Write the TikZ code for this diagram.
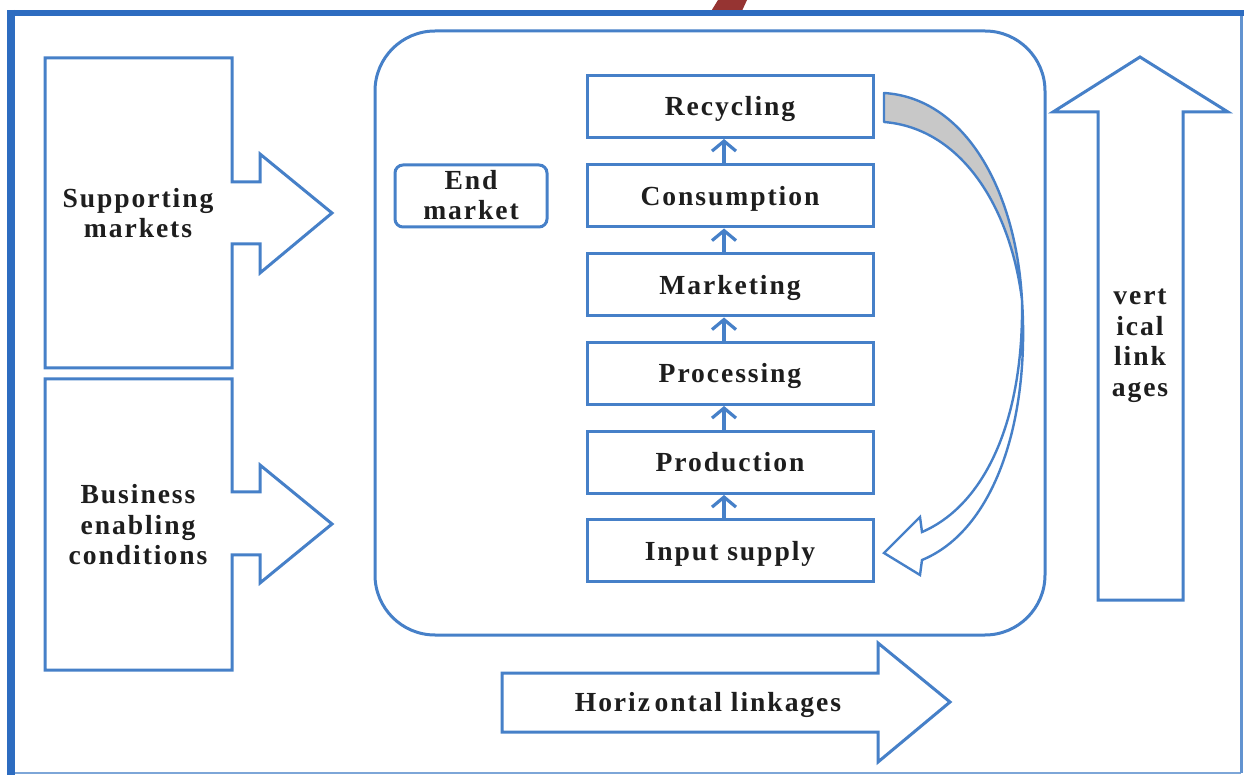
\documentclass[tikz,border=0pt]{standalone}
\usepackage{fontspec}
\setmainfont{Liberation Serif}[LetterSpace=7]
\usetikzlibrary{arrows.meta}
\definecolor{lc}{RGB}{70,128,200}
\definecolor{fc}{RGB}{45,108,192}
\definecolor{rc}{RGB}{150,52,50}
\definecolor{tc}{RGB}{30,30,30}
\definecolor{gc}{RGB}{200,200,200}
\tikzset{
  shp/.style={draw=lc, line width=1.5pt, line join=miter, fill=white},
  stepbox/.style={draw=lc, line width=1.5pt, minimum width=143pt, minimum height=31pt, inner sep=0pt, fill=white},
  txt/.style={font=\fontsize{13.8}{15.25}\selectfont\bfseries, text=tc, align=center, inner sep=0pt},
  onel/.style={txt, text height=9.2pt, text depth=0pt},
  smallarr/.style={draw=lc, line width=1.6pt, -{Straight Barb[length=5pt, width=12pt, line width=1.6pt]}},
}
\begin{document}
\begin{tikzpicture}[x=0.5pt, y=-0.5pt]
\useasboundingbox (0,0) rectangle (1244,775);
\fill[white] (0,0) rectangle (1244,775);
% red fragment at top
\fill[rc] (710,13) -- (718,0) -- (747,0) -- (741,13) -- cycle;
% frame
\draw[lc!70, line width=1pt] (11,773) -- (1241,773);
\draw[lc!85, line width=1.5pt] (1241,13) -- (1241,773);
\draw[fc, line width=2.8pt] (8,13) -- (1244,13);
\draw[fc, line width=3.6pt] (11,10) -- (11,775);
% big rounded container
\draw[lc, line width=1.5pt, rounded corners=30pt] (375,31) rectangle (1045,635);
% left block arrows
\draw[shp] (45,58) -- (232,58) -- (232,182) -- (260,182) -- (260,154) -- (332,213) -- (260,273) -- (260,244) -- (232,244) -- (232,368) -- (45,368) -- cycle;
\node[txt] (supp) at (138,213) {Supporting\\markets};
\draw[shp] (45,379) -- (232,379) -- (232,492) -- (260,492) -- (260,465) -- (332,524) -- (260,583) -- (260,555) -- (232,555) -- (232,670) -- (45,670) -- cycle;
\node[txt] (bus) at (138,525) {Business\\enabling\\conditions};
% end market
\node[draw=lc, line width=1.5pt, rounded corners=4pt, minimum width=76pt, minimum height=31pt, inner sep=0pt] (endm) at (471,196) {};
\node[txt] (endt) at (471,195) {End\\market};
% stack
\node[stepbox] (rec) at (730,106.5) {};
\node[stepbox] (con) at (730,196) {};
\node[stepbox] (mar) at (730,285) {};
\node[stepbox] (pro) at (730,373.5) {};
\node[stepbox] (prd) at (730,462.5) {};
\node[stepbox] (inp) at (730,551) {};
\node[onel] (rect) at (730,106.5) {Recycling};
\node[onel] (cont) at (730,196) {Consumption};
\node[onel] (mart) at (730,285) {Marketing};
\node[onel] (prot) at (730,373.5) {Processing};
\node[onel] (prdt) at (730,462.5) {Production};
\node[onel] (inpt) at (730,551) {Input supply};
\draw[smallarr] ([xshift=-3pt]inp.north) -- ([xshift=-3pt]prd.south);
\draw[smallarr] ([xshift=-3pt]prd.north) -- ([xshift=-3pt]pro.south);
\draw[smallarr] ([xshift=-3pt]pro.north) -- ([xshift=-3pt]mar.south);
\draw[smallarr] ([xshift=-3pt]mar.north) -- ([xshift=-3pt]con.south);
\draw[smallarr] ([xshift=-3pt]con.north) -- ([xshift=-3pt]rec.south);
% curved arrow
\draw[draw=lc, line width=1.2pt, fill=gc, line join=round] (884,93) .. controls (965,98) and (1016,190) .. (1022,300) .. controls (1010,205) and (960,128) .. (884,122) -- cycle;
\draw[draw=lc, line width=1.2pt, fill=white, line join=miter] (1022,300) .. controls (1024,420) and (985,505) .. (922,532) -- (920,517) -- (884,553) -- (920,575) -- (922,560) .. controls (995,530) and (1030,420) .. (1022,300) -- cycle;
% vertical linkages
\draw[shp] (1098,600) -- (1098,112) -- (1053,112) -- (1140,57) -- (1228,112) -- (1183,112) -- (1183,600) -- cycle;
\node[txt] (vert) at (1140,346) {vert\\ical\\link\\ages};
% horizontal linkages
\draw[shp] (502,673) -- (878,673) -- (878,643) -- (950,702) -- (878,762) -- (878,732) -- (502,732) -- cycle;
\node[onel] (hor) at (708,702) {Horiz\,ontal linkages};
\end{tikzpicture}
\end{document}
